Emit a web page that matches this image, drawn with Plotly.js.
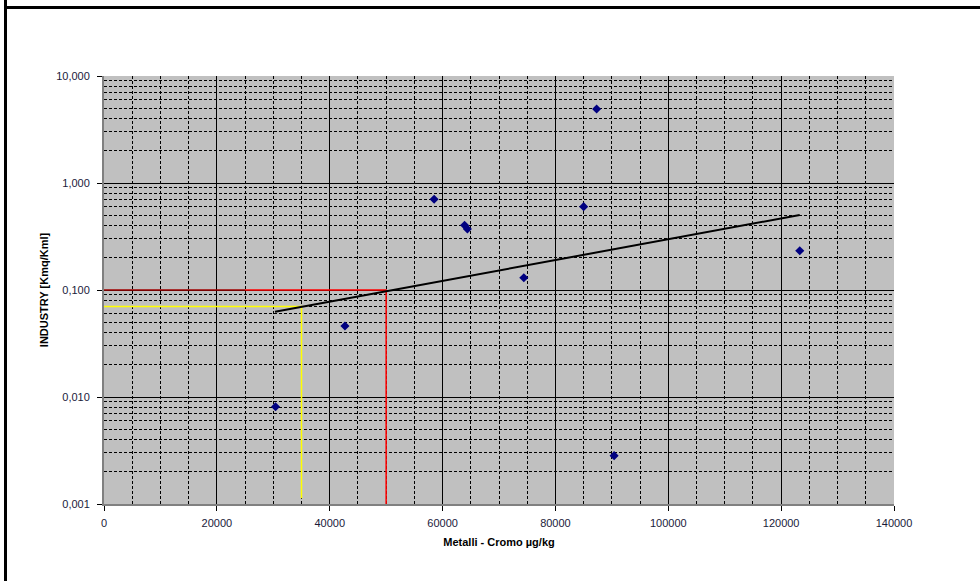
<!DOCTYPE html>
<html>
<head>
<meta charset="utf-8">
<script src="https://cdn.plot.ly/plotly-3.0.1.min.js"></script>
<style>
html,body{margin:0;padding:0;background:#fff;}
#wrap{position:relative;width:980px;height:581px;overflow:hidden;}
#frameL{position:absolute;left:4px;top:0;width:3px;height:581px;background:#000;}
#frameT{position:absolute;left:4px;top:6px;width:976px;height:3px;background:#000;}
#chart{position:absolute;left:0;top:0;width:980px;height:581px;}
</style>
</head>
<body>
<div id="wrap">
<div id="chart"></div>
<div id="frameL"></div>
<div id="frameT"></div>
</div>
<script>
// Scatter data: Metalli - Cromo (µg/kg) vs INDUSTRY [Kmq/Kml]
const cromoX = [30400, 42700, 58500, 63900, 64400, 74400, 85000, 87300, 90400, 123300];
const industryY = [0.0081, 0.0461, 0.705, 0.403, 0.372, 0.130, 0.601, 4.92, 0.00283, 0.233];

// Trend line (read endpoints)
const trendX = [30300, 123300];
const trendY = [0.0627, 0.502];

// Reference lines
const redDarkX = [0, 25000];
const redDarkY = [0.1, 0.1];
const redX = [25000, 50000, 50000];
const redY = [0.1, 0.1, 0.001];
const yellowX = [0, 35000, 35000];
const yellowY = [0.07, 0.07, 0.00113];

const xTicks = [0, 20000, 40000, 60000, 80000, 100000, 120000, 140000];
const yTicks = [0.001, 0.01, 0.1, 1, 10];
const yTickText = ['0,001', '0,010', '0,100', '1,000', '10,000'];

const font = 'Liberation Sans, Arial, sans-serif';

const traces = [
  {x: redDarkX, y: redDarkY, mode: 'lines', line: {color: '#a00000', width: 1.5}, hoverinfo: 'skip'},
  {x: redX, y: redY, mode: 'lines', line: {color: '#ff0000', width: 1.5}, hoverinfo: 'skip'},
  {x: yellowX, y: yellowY, mode: 'lines', line: {color: '#ffff00', width: 1.5}, hoverinfo: 'skip'},
  {x: trendX, y: trendY, mode: 'lines', line: {color: '#000000', width: 2}, hoverinfo: 'skip'},
  {x: cromoX, y: industryY, mode: 'markers', marker: {symbol: 'diamond', size: 7, color: '#000080'}}
];

const layout = {
  width: 980, height: 581,
  margin: {l: 104, r: 86, t: 76, b: 77},
  paper_bgcolor: '#ffffff',
  plot_bgcolor: '#c0c0c0',
  showlegend: false,
  separators: ',.',
  font: {family: font, size: 11, color: '#000'},
  xaxis: {
    range: [0, 140000],
    tickvals: xTicks,
    ticktext: xTicks.map(String),
    showgrid: true, gridcolor: '#000000', gridwidth: 1,
    minor: {dtick: 5000, showgrid: true, gridcolor: '#000000', griddash: '3px,2px', gridwidth: 1, ticks: ''},
    zeroline: false,
    showline: true, linecolor: '#808080', linewidth: 2,
    ticks: 'outside', ticklen: 5, tickcolor: '#000',
    ticklabelstandoff: 3,
    tickfont: {family: font, size: 11, color: '#1a1a3a'},
    title: {text: 'Metalli - Cromo µg/kg', font: {family: font, size: 11, color: '#000', weight: 'bold'}, standoff: 10}
  },
  yaxis: {
    type: 'log',
    range: [-3, 1],
    tickvals: yTicks,
    ticktext: yTickText,
    showgrid: true, gridcolor: '#000000', gridwidth: 1,
    minor: {dtick: 'D1', showgrid: true, gridcolor: '#000000', griddash: '3px,2px', gridwidth: 1, ticks: ''},
    zeroline: false,
    showline: true, linecolor: '#808080', linewidth: 2,
    ticks: 'outside', ticklen: 5, tickcolor: '#000',
    ticklabelstandoff: 5,
    tickfont: {family: font, size: 11, color: '#1a1a3a'},
    title: {text: 'INDUSTRY [Kmq/Kml]', font: {family: font, size: 11, color: '#000', weight: 'bold'}, standoff: 5}
  }
};

Plotly.newPlot('chart', traces, layout, {displayModeBar: false, staticPlot: true});
</script>
</body>
</html>
